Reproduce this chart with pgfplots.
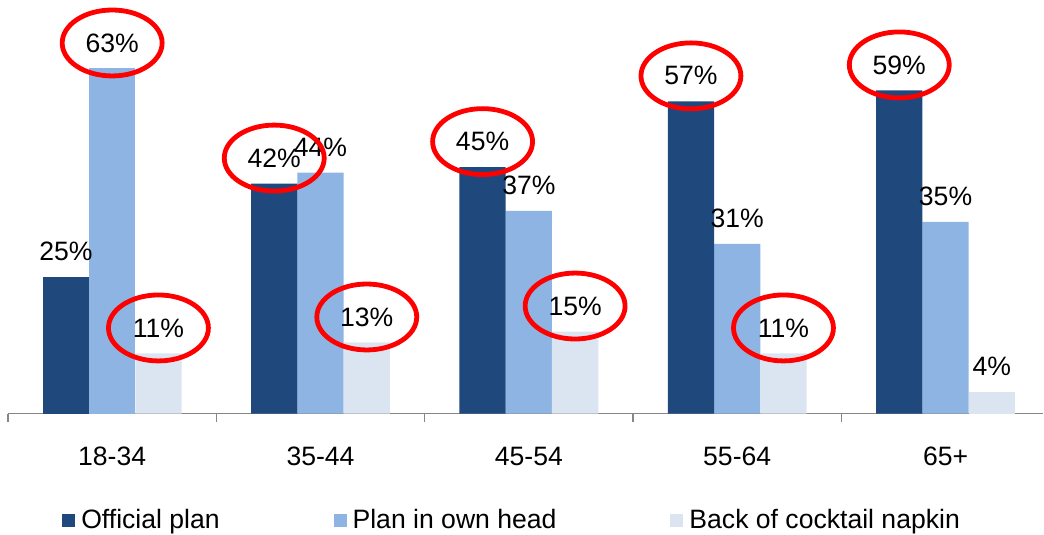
\documentclass[border=0pt]{standalone}
\usepackage{fontspec}
\setmainfont{Liberation Sans}
\usepackage{pgfplots}
\pgfplotsset{compat=1.18}
\usetikzlibrary{shapes.geometric}
\definecolor{cdark}{HTML}{1F497D}
\definecolor{cmid}{HTML}{8DB4E2}
\definecolor{clight}{HTML}{DBE5F1}
\definecolor{caxis}{HTML}{868686}
\newcommand{\chartfont}{\fontsize{13.3}{16}\selectfont}
\begin{document}
\begin{tikzpicture}
\begin{axis}[
  width=518pt, height=207pt, scale only axis,
  xmin=-0.5, xmax=4.469, ymin=0, ymax=75.49,
  enlargelimits=false, clip=false,
  axis x line=bottom, axis y line=none,
  x axis line style={-, draw=caxis, line width=0.75pt},
  ybar=0pt, bar width=23.15pt,
  xtick={0,1,2,3,4},
  xticklabels={18-34,35-44,45-54,55-64,65+},
  major tick length=0pt,
  extra x ticks={-0.5,0.5,1.5,2.5,3.5},
  extra x tick labels={},
  extra x tick style={major tick length=4pt, tick align=outside, tick style={draw=caxis, line width=0.75pt}},
  xticklabel style={font=\chartfont, anchor=north, yshift=-13pt},
  /pgf/number format/assume math mode=true,
  point meta=y,
  nodes near coords={\pgfmathprintnumber{\pgfplotspointmeta}\%},
  every node near coord/.append style={font=\chartfont, text=black, anchor=center, yshift=12.75pt},
  legend columns=3,
  legend style={at={(0.0521,-0.2585)}, anchor=west, draw=none, fill=none, inner sep=0pt,
    font=\chartfont, nodes={inner sep=1.5pt},
    /tikz/every odd column/.append style={column sep=1.5pt},
    /tikz/every even column/.append style={column sep=55.5pt}},
  legend cell align=left,
]
\addplot[fill=cdark, draw=none, bar shift=-23.15pt,
  legend image code/.code={\fill[cdark] (0pt,-3.25pt) rectangle (6.5pt,3.25pt);}]
  coordinates {(0,25)};
\addlegendentry{Official plan}
\addplot[fill=cmid, draw=none, bar shift=0pt,
  legend image code/.code={\fill[cmid] (0pt,-3.25pt) rectangle (6.5pt,3.25pt);}]
  coordinates {(1,44) (2,37) (3,31) (4,35)};
\addlegendentry{Plan in own head}
\addplot[fill=clight, draw=none, bar shift=23.15pt,
  legend image code/.code={\fill[clight] (0pt,-3.25pt) rectangle (6.5pt,3.25pt);}]
  coordinates {(4,4)};
\addlegendentry{Back of cocktail napkin}
% circled values
\addplot[fill=cdark, draw=none, bar shift=-23.15pt, forget plot,
  every node near coord/.append style={draw=red, ellipse, line width=2.4pt, minimum width=50pt, minimum height=33pt, inner sep=0pt}]
  coordinates {(1,42) (2,45) (3,57) (4,59)};
\addplot[fill=cmid, draw=none, bar shift=0pt, forget plot,
  every node near coord/.append style={draw=red, ellipse, line width=2.4pt, minimum width=50pt, minimum height=33pt, inner sep=0pt}]
  coordinates {(0,63)};
\addplot[fill=clight, draw=none, bar shift=23.15pt, forget plot,
  every node near coord/.append style={draw=red, ellipse, line width=2.4pt, minimum width=50pt, minimum height=33pt, inner sep=0pt}]
  coordinates {(0,11) (1,13) (2,15) (3,11)};
\end{axis}
\path[use as bounding box] (-4pt,-60.5pt) rectangle (518pt,207pt);
\end{tikzpicture}
\end{document}
